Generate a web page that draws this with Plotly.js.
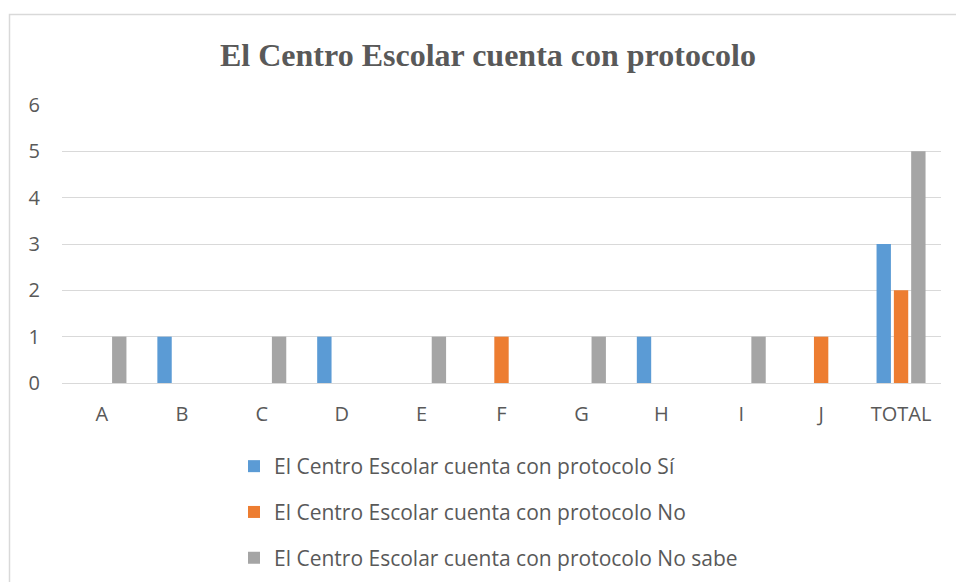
<!DOCTYPE html>
<html>
<head>
<meta charset="utf-8">
<script src="https://cdn.plot.ly/plotly-3.0.1.min.js"></script>
<style>html,body{margin:0;padding:0;background:#fff;}#chart{width:956px;height:582px;}</style>
</head>
<body>
<div id="chart"></div>
<script>
const categories = ["A","B","C","D","E","F","G","H","I","J","TOTAL"];
const seriesNames = [
  "El Centro Escolar cuenta con protocolo Sí",
  "El Centro Escolar cuenta con protocolo No",
  "El Centro Escolar cuenta con protocolo No sabe"
];
const siValues     = [0,1,0,1,0,0,0,1,0,0,3];
const noValues     = [0,0,0,0,0,1,0,0,0,1,2];
const noSabeValues = [1,0,1,0,1,0,1,0,1,0,5];
const yTickValues  = [0,1,2,3,4,5,6];
const colors = ["#5B9BD5","#ED7D31","#A5A5A5"];

const font = "'Open Sans', 'Liberation Sans', sans-serif";
const textColor = "#595959";

const allValues = [siValues, noValues, noSabeValues];
const traces = allValues.map((vals, i) => ({
  type: "bar",
  name: seriesNames[i],
  x: categories,
  y: vals,
  marker: {color: colors[i]},
  legendgroup: "g" + i,
  hoverinfo: "x+y+name"
}));

const L = 62, R = 15, T = 105, B = 199;
const W = 956, H = 582;
const pw = W - L - R, ph = H - T - B;
const px = v => (v - L) / pw;
const py = v => (H - B - v) / ph;

const layout = {
  width: W, height: H,
  margin: {l: L, r: R, t: T, b: B, pad: 0, autoexpand: false},
  paper_bgcolor: "#ffffff",
  plot_bgcolor: "#ffffff",
  barmode: "group",
  bargap: 0.35,
  bargroupgap: 0.17,
  title: {
    text: "<b>El Centro Escolar cuenta con protocolo</b>",
    font: {family: "'Liberation Serif', 'Times New Roman', serif", size: 32, color: textColor},
    x: 488 / W, xanchor: "center",
    y: 1 - 55 / H, yanchor: "middle", yref: "container"
  },
  xaxis: {
    type: "category",
    tickfont: {family: font, size: 20, color: textColor},
    showgrid: false,
    showline: true, linecolor: "#D9D9D9", linewidth: 1,
    ticks: "", ticklabelstandoff: 13,
    fixedrange: true
  },
  yaxis: {
    range: [0, 6],
    tickvals: yTickValues,
    ticktext: yTickValues.map(String),
    tickfont: {family: font, size: 20, color: textColor},
    showgrid: true, gridcolor: "#D9D9D9", gridwidth: 1,
    zeroline: false, showline: false,
    ticks: "", ticklabelstandoff: 21,
    fixedrange: true
  },
  showlegend: true,
  legend: {
    orientation: "v",
    x: px(234), xanchor: "left",
    y: py(446), yanchor: "top",
    traceorder: "grouped",
    tracegroupgap: 15.5,
    font: {family: font, size: 21, color: textColor},
    bgcolor: "rgba(0,0,0,0)"
  },
  shapes: [{
    type: "rect", xref: "paper", yref: "paper",
    x0: px(9.5), x1: px(980), y0: py(14.5), y1: py(620),
    line: {color: "#D9D9D9", width: 1.5},
    fillcolor: "rgba(0,0,0,0)", layer: "below"
  }]
};

Plotly.newPlot("chart", traces, layout, {displayModeBar: false, staticPlot: true});
</script>
</body>
</html>
